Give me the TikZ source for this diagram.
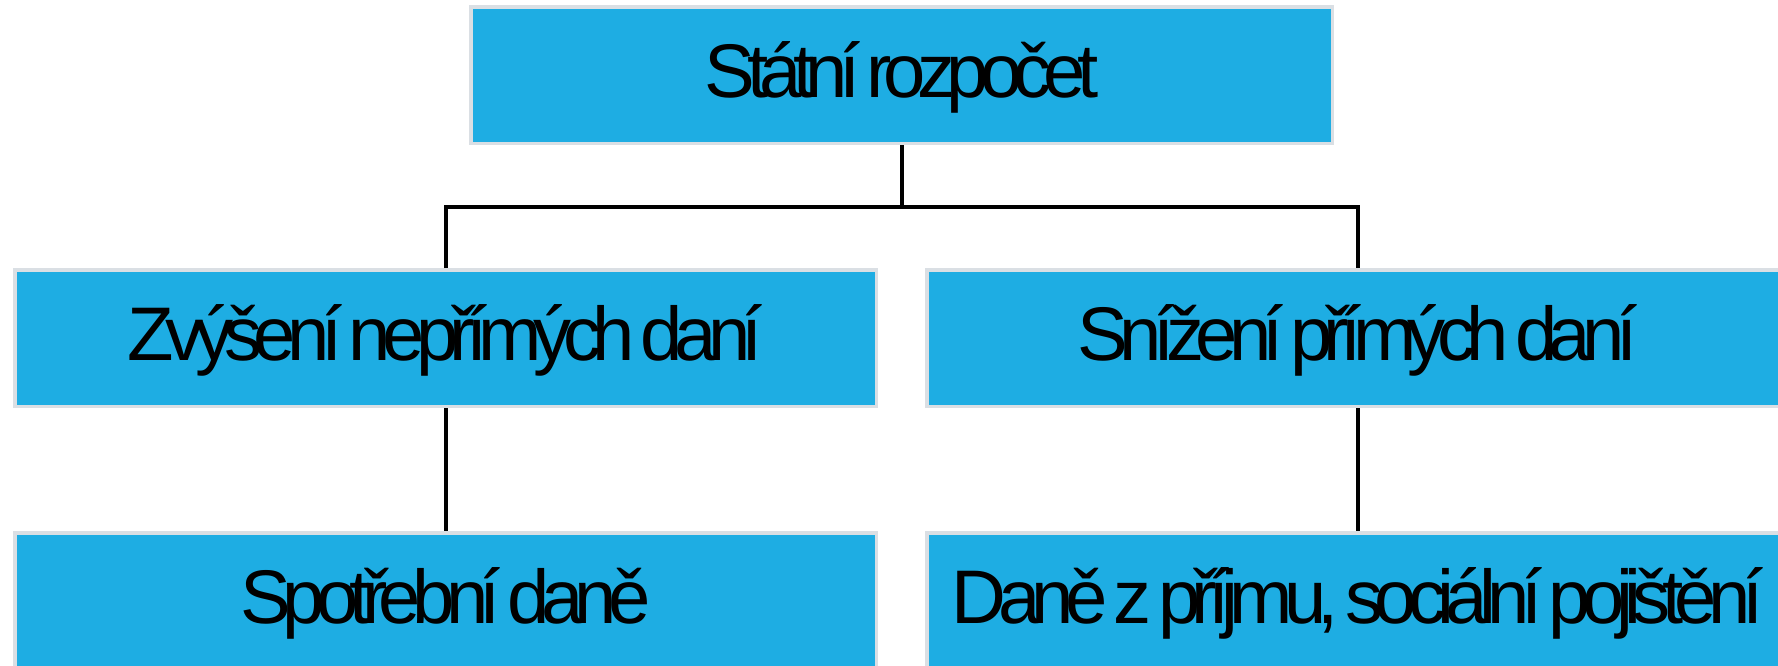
\documentclass[tikz,border=0pt]{standalone}
\usepackage{fontspec}
\setmainfont{Liberation Sans}
\newfontfamily\boxfont[LetterSpace=-11.3,WordSpace=0.5]{Liberation Sans}
\definecolor{boxblue}{RGB}{30,173,227}
\definecolor{boxrim}{RGB}{218,223,228}
\begin{document}
\begin{tikzpicture}[x=1pt,y=-1pt,
  box/.style={draw=boxrim, line width=3.5pt, fill=boxblue,
    minimum width=861.5pt, minimum height=136.5pt, inner sep=0pt,
    text height=48pt, text depth=4pt, text=black,
    font=\fontsize{76}{80}\selectfont\boxfont},
  link/.style={draw=black, line width=4pt}]
\useasboundingbox (0,0) rectangle (1778,665);
\clip (0,0) rectangle (1778,665);
\fill[white] (0,0) rectangle (1778,665);
\node[box] (top) at (901.5,75) {Státní rozpočet};
\node[box] (ml) at (445.5,338) {Zvýšení nepřímých daní};
\node[box] (mr) at (1357.5,338) {Snížení přímých daní};
\node[box] (bl) at (445.5,601) {Spotřební daně};
\node[box] (br) at (1357.5,601) {Daně z příjmu, sociální pojištění};
\coordinate (j) at (901.5,207);
\draw[link] (top.south) -- (j);
\draw[link] (ml.north) -- (ml.north |- j) -- (mr.north |- j) -- (mr.north);
\draw[link] (ml) -- (bl);
\draw[link] (mr) -- (br);
\end{tikzpicture}
\end{document}
